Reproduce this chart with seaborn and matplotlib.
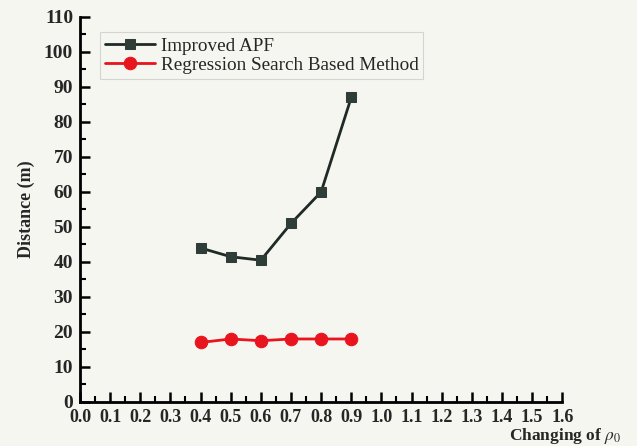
import matplotlib
matplotlib.use("Agg")
import matplotlib.pyplot as plt
import seaborn as sns
import pandas as pd
from matplotlib.ticker import MultipleLocator, FormatStrFormatter

sns.set_style("ticks")
plt.rcParams['font.family'] = ['Liberation Serif', 'DejaVu Serif']
plt.rcParams['mathtext.fontset'] = 'stix'

rho = [0.4, 0.5, 0.6, 0.7, 0.8, 0.9]
apf = [44, 41.5, 40.5, 51, 60, 87]
regression = [17, 18, 17.5, 18, 18, 18]
series_names = ["Improved APF", "Regression Search Based Method"]

df = pd.DataFrame({
    "rho": rho * 2,
    "dist": apf + regression,
    "method": [series_names[0]] * len(rho) + [series_names[1]] * len(rho),
})

fig = plt.figure(figsize=(6.37, 4.46), dpi=100)
bg = "#f6f6f1"
fig.patch.set_facecolor(bg)
ax = fig.add_axes([0.1256, 0.0987, 0.757, 0.8633])
ax.set_facecolor(bg)

sns.lineplot(data=df, x="rho", y="dist", hue="method", style="method",
             palette={series_names[0]: "#1f2a27", series_names[1]: "#e8141e"},
             markers={series_names[0]: "s", series_names[1]: "o"},
             dashes=False, linewidth=2, ax=ax, legend=False)
for line, ms, mc in zip(ax.lines, [7, 9], ["#2f3d39", "#e8141e"]):
    line.set_markersize(ms)
    line.set_markerfacecolor(mc)
    line.set_markeredgecolor(mc)

handles = ax.lines[:2]
leg = ax.legend(handles, series_names, loc="upper left", bbox_to_anchor=(0.022, 0.985),
                frameon=True, fancybox=False, fontsize=13.8, handlelength=2.6,
                borderpad=0.25, labelspacing=0.1, handletextpad=0.3)
leg.get_frame().set_edgecolor("#cccccc")
leg.get_frame().set_facecolor(bg)
leg.get_frame().set_linewidth(0.8)

ax.set_xlim(0, 1.6)
ax.set_ylim(0, 110)
ax.xaxis.set_major_locator(MultipleLocator(0.1))
ax.xaxis.set_minor_locator(MultipleLocator(0.05))
ax.xaxis.set_major_formatter(FormatStrFormatter("%.1f"))
ax.yaxis.set_major_locator(MultipleLocator(10))
ax.yaxis.set_minor_locator(MultipleLocator(5))
ax.tick_params(axis="both", which="major", direction="in", length=7, width=1.8,
               color="black", pad=5)
ax.tick_params(axis="x", labelsize=13)
ax.tick_params(axis="y", labelsize=14)
ax.tick_params(axis="both", which="minor", direction="in", length=4, width=1.5, color="black")
for lbl in ax.get_xticklabels() + ax.get_yticklabels():
    lbl.set_fontweight("bold")

for s in ["top", "right"]:
    ax.spines[s].set_visible(False)
for s in ["left", "bottom"]:
    ax.spines[s].set_linewidth(2)
    ax.spines[s].set_color("black")

ax.set_ylabel("Distance (m)", fontsize=13, fontweight="bold", labelpad=6)
ax.set_xlabel(r"Changing of $\rho_0$", fontsize=12.5, fontweight="bold")
ax.xaxis.set_label_coords(1.122, -0.088)
ax.xaxis.label.set_horizontalalignment("right")
ax.xaxis.label.set_verticalalignment("center")

fig.savefig("out.png", dpi=100, facecolor=bg)
